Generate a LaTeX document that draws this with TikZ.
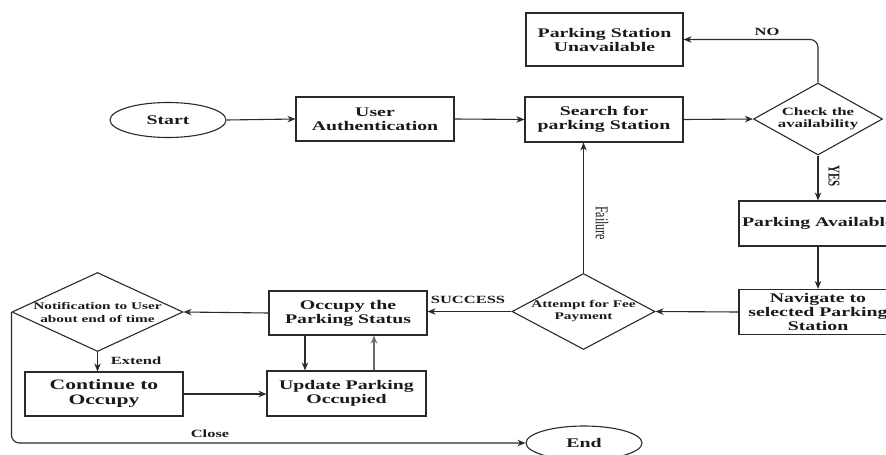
\documentclass[tikz,border=0pt]{standalone}
\usepackage{fontspec}
\setmainfont{Liberation Serif}[FakeStretch=1.5]
\newfontfamily\plainserif{Liberation Serif}
\usetikzlibrary{shapes.geometric,arrows.meta}
\definecolor{ln}{HTML}{2A2A2A}
\definecolor{tx}{HTML}{1A1A1A}
\tikzset{
  box/.style={draw=ln, line width=1.2pt, rectangle, minimum width=158pt, minimum height=44pt, inner sep=0pt, align=center, text=tx, font=\fontsize{13.2}{14}\selectfont\bfseries},
  term/.style={draw=ln, line width=1.1pt, ellipse, minimum width=116pt, minimum height=35pt, inner sep=0pt, text=tx, font=\fontsize{13.2}{14}\selectfont\bfseries},
  dia/.style={draw=ln, line width=1.1pt, diamond, inner sep=0pt},
  diatext/.style={align=center, text=tx, inner sep=0pt},
  lbl/.style={text=tx, inner sep=0pt, font=\fontsize{11}{12}\selectfont\bfseries},
  arr/.style={draw=ln, line width=1.1pt, -{Stealth[length=8pt,width=6.5pt]}},
}
\begin{document}
\begin{tikzpicture}[x=1pt,y=-1pt]
\useasboundingbox (0,0) rectangle (886,455);
\clip (0,0) rectangle (886,455);
% nodes
\node[term] (start) at (168,120) {Start};
\node[box] (ua) at (375,119) {User\\Authentication};
\node[box, minimum height=45pt] (search) at (604,119.5) {Search for\\parking Station};
\node[box, minimum width=157pt, minimum height=53pt] (unavail) at (604.5,39.5) {Parking Station\\Unavailable};
\node[dia, minimum width=129pt, minimum height=72pt] (check) at (818,119) {};
\node[diatext, font=\fontsize{11.2}{12.5}\selectfont\bfseries] at (check) {Check the\\availability};
\node[box, minimum height=45pt] (avail) at (818,223.5) {Parking Available};
\node[box, minimum height=45pt] (nav) at (818,312) {Navigate to\\selected Parking\\Station};
\node[dia, minimum width=143pt, minimum height=76pt] (attempt) at (583.5,311.5) {};
\node[diatext, font=\fontsize{10.2}{12}\selectfont\bfseries] at (attempt) {Attempt for Fee\\Payment};
\node[box] (occupy) at (348,313) {Occupy the\\Parking Status};
\node[box, minimum width=159pt, minimum height=45pt] (update) at (346.5,393.5) {Update Parking\\Occupied};
\node[dia, minimum width=171pt, minimum height=79pt] (notif) at (97.5,312) {};
\node[diatext, font=\fontsize{10.2}{13}\selectfont\bfseries] at (notif) {Notification to User\\about end of time};
\node[box, font=\fontsize{14.4}{15}\selectfont\bfseries] (cont) at (104,394) {Continue to\\Occupy};
\node[term, minimum height=34pt] (end) at (584,443) {End};
% connectors
\draw[arr] (start.east) -- (ua.west);
\draw[arr] (ua.east) -- (search.west);
\draw[arr] (search.east) -- (check.west);
\draw[arr, rounded corners=8pt] (check.north) |- (unavail.east);
\draw[arr] (check.south) -- (avail.north);
\draw[arr] (avail.south) -- (nav.north);
\draw[arr] (nav.west) -- (attempt.east);
\draw[arr] (attempt.north) -- (attempt.north |- search.south);
\draw[arr] (attempt.west) -- (attempt.west -| occupy.east);
\draw[arr] (occupy.west) -- (notif.east);
\draw[arr] (notif.south) -- (notif.south |- cont.north);
\draw[arr] (cont.east) -- (cont.east -| update.west);
\draw[arr] ([xshift=-43pt]occupy.south) -- ([xshift=-43pt]occupy.south |- update.north);
\draw[arr, draw=gray!85!black] ([xshift=26pt]occupy.south |- update.north) -- ([xshift=26pt]occupy.south);
\draw[arr, rounded corners=8pt] (notif.west) |- (end.west);
% labels
\node[lbl] (lno) at (767,32) {NO};
\node[lbl, rotate=-90] (lyes) at (834,176) {\scalebox{1}[1.5]{\plainserif\bfseries YES}};
\node[lbl, rotate=-90, font=\fontsize{12}{12}\selectfont] (lfail) at (602,223) {\scalebox{1}[1.5]{\plainserif Failure}};
\node[lbl] (lsucc) at (468,300) {SUCCESS};
\node[lbl] (lext) at (136,361) {Extend};
\node[lbl] (lclose) at (210,434) {Close};
\end{tikzpicture}
\end{document}
